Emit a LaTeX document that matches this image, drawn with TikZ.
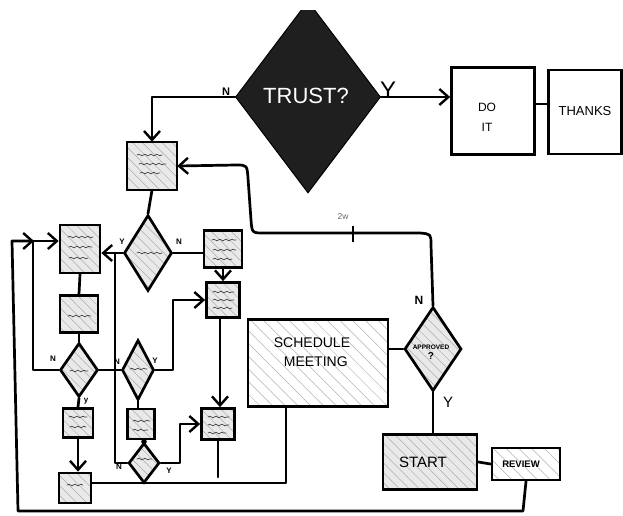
\documentclass[tikz,border=0pt]{standalone}
\usepackage{fontspec}
\setmainfont{Liberation Sans}
\usetikzlibrary{arrows.meta,shapes.geometric,patterns.meta,decorations.pathmorphing,calc}
\begin{document}
\begin{tikzpicture}[x=1pt,y=-1pt,
  ln/.style={line width=2.7pt,line cap=round,line join=round},
  arr/.style={ln,-{Straight Barb[length=9pt,width=16pt,line width=2.4pt]}},
  wbox/.style={draw,line width=2.7pt,fill=white,inner sep=0pt},
  hbox/.style={draw,line width=2.7pt,inner sep=0pt,preaction={fill=gray!17},
    pattern={Lines[angle=-45,distance=7pt,line width=0.5pt]},pattern color=gray!65},
  lbox/.style={draw,line width=2.7pt,inner sep=0pt,preaction={fill=white},
    pattern={Lines[angle=-45,distance=9pt,line width=0.5pt]},pattern color=gray!60},
  dia/.style={hbox,diamond},
  scrib/.style={line width=0.7pt,black!75,line cap=round,decorate,
    decoration={snake,amplitude=0.8pt,segment length=6pt}},
  lab/.style={font=\bfseries\fontsize{8}{8}\selectfont,inner sep=0pt},
]
\useasboundingbox (0,0) rectangle (623,515);

% --- top: trust decision ---
\begin{scope}
  \clip (0,10) rectangle (623,515);
  \node[diamond,fill=black!88,draw=black,line width=1pt,inner sep=0pt,
        minimum width=145pt,minimum height=192pt] (trust) at (308,97) {};
\end{scope}
\node[text=white,font=\fontsize{22}{22}\selectfont] (trusttxt) at (306,96) {TRUST?};
\node[wbox,minimum width=83pt,minimum height=87pt] (doit) at (493,111) {};
\node[font=\fontsize{12}{20}\selectfont,align=center] (doittxt) at (487,117) {DO\\IT};
\node[wbox,minimum width=73pt,minimum height=84pt] (thanks) at (585,112) {};
\node[font=\fontsize{13}{13}\selectfont] (thankstxt) at (585,111) {THANKS};
\draw[arr] (trust.east) -- (doit.west |- trust.east);
\draw[ln] (doit.east |- 0,104) -- (thanks.west |- 0,104);
\node[font=\bfseries\fontsize{11}{11}\selectfont] (tn) at (226,92) {N};
\node[font=\fontsize{24}{24}\selectfont] (ty) at (388,90) {Y};

% --- left cluster ---
\node[hbox,minimum width=50pt,minimum height=48pt] (A1) at (152,166) {};
\node[dia,minimum width=48pt,minimum height=76pt] (D1) at (148,253) {};
\node[hbox,minimum width=40pt,minimum height=48pt] (B1) at (80,249) {};
\node[hbox,minimum width=38pt,minimum height=37pt] (B2) at (79,314) {};
\node[dia,minimum width=38pt,minimum height=54pt] (D2) at (79,370) {};
\node[hbox,minimum width=30pt,minimum height=29pt] (B3) at (78,423) {};
\node[hbox,minimum width=32pt,minimum height=30pt] (B4) at (75,488) {};
\node[dia,minimum width=32pt,minimum height=60pt] (D3) at (138,370) {};
\node[hbox,minimum width=27pt,minimum height=30pt] (B5) at (141,424) {};
\node[dia,minimum width=31pt,minimum height=40pt] (D4) at (144,463) {};
\node[hbox,minimum width=38pt,minimum height=37pt] (C1) at (223,249) {};
\node[hbox,minimum width=33pt,minimum height=35pt] (C2) at (223,300) {};
\node[hbox,minimum width=33pt,minimum height=31pt] (C3) at (218,424) {};

% --- right cluster ---
\node[lbox,minimum width=140pt,minimum height=87pt] (sched) at (318,363) {};
\node[font=\fontsize{14}{19}\selectfont,align=left] (schedtxt) at (312,352) {SCHEDULE\\\hspace*{10pt}MEETING};
\node[dia,minimum width=57pt,minimum height=84pt] (appr) at (433,349) {};
\node[align=center,font=\bfseries\fontsize{6.5}{9}\selectfont] (apprtxt) at (431,352) {APPROVED\\[1pt]{\fontsize{10}{10}\selectfont ?}};
\node[hbox,minimum width=94pt,minimum height=55pt] (start) at (430,462) {};
\node[font=\fontsize{15}{15}\selectfont] (starttxt) at (423,462) {START};
\node[lbox,minimum width=68pt,minimum height=32pt] (review) at (526,464) {};
\node[font=\bfseries\fontsize{9.5}{9.5}\selectfont] (reviewtxt) at (521,464) {REVIEW};

% coordinates
\coordinate (jY) at (115,253);
\coordinate (cdang) at (218,477);

% --- connectors ---
\draw[arr] (trust.west) -| (A1.north);
\draw[arr] (appr.north) -- (431,245) .. controls (431,234) .. (420,233)
  -- (264,233) .. controls (252,233) .. (251,220) -- (248,178)
  .. controls (247,165) .. (236,165) -- (A1.east);
\draw[line width=1.2pt] (353,226) -- (353,242);
\node[text=black!60,font=\fontsize{8.5}{8.5}\selectfont] (twow) at (343,217) {2w};

\draw[ln] (A1.south) -- (D1.north);
\draw[arr] (D1.west) -- (B1.east |- D1.west);
\draw[ln] (jY) |- (D4.west);
\draw[ln] (D1.east) -- (C1.west |- D1.east);
\draw[arr] (C1.south) -- (C2.north);
\draw[arr] (C2.south -| 220,0) -- (C3.north -| 220,0);
\draw[ln] (C3.south) -- (cdang);
\draw[ln] (B1.south) -- (B2.north);
\draw[ln] (B2.south) -- (D2.north);
\draw[arr] (D2.west) -| (33,241) -- (B1.west |- 0,241);
\draw[arr] (review.south) -- (523,511) -- (18,511) -- (12,241) -- (34,241);
\draw[ln] (D2.south) -- (B3.north);
\draw[arr] (B3.south) -- (B4.north -| B3.south);
\draw[ln] (D2.east) -- (D3.west);
\draw[arr] (D3.east) -| (173,300) -- (C2.west);
\draw[ln] (D3.south) -- (B5.north -| D3.south);
\draw[ln] (B5.south -| D4.north) -- (D4.north);
\fill (D4.north) circle (2.8pt);
\draw[arr] (D4.east) -| (180,424) -- (C3.west);
\draw[ln] (sched.south -| 286,0) |- (B4.east |- 0,483);
\draw[ln] (appr.west) -- (appr.west -| sched.east);
\draw[ln] (appr.south) -- (appr.south |- start.north);
\draw[ln] (start.east) -- (review.west);

% --- Y / N labels ---
\node[lab] (l1) at (122,242) {Y};
\node[lab] (l2) at (179,242) {N};
\node[lab] (l3) at (53,359) {N};
\node[lab] (l4) at (117,362) {N};
\node[lab] (l5) at (155,361) {Y};
\node[lab] (l6) at (86,401) {y};
\node[lab] (l7) at (119,467) {N};
\node[lab] (l8) at (169,471) {Y};
\node[font=\bfseries\fontsize{12}{12}\selectfont] (l9) at (419,300) {N};
\node[font=\fontsize{15}{15}\selectfont] (l10) at (448,402) {Y};

% --- scribbles inside boxes ---
\draw[scrib] (137,155) -- (162,155);
\draw[scrib] (139,164) -- (166,164);
\draw[scrib] (140,173) -- (160,173);
\draw[scrib] (68,237) -- (93,237);
\draw[scrib] (69,247) -- (92,247);
\draw[scrib] (69,258) -- (88,258);
\draw[scrib] (68,316) -- (91,316);
\draw[scrib] (137,253) -- (162,253);
\draw[scrib] (212,240) -- (236,240);
\draw[scrib] (213,250) -- (236,250);
\draw[scrib] (213,259) -- (232,259);
\draw[scrib] (213,292) -- (234,292);
\draw[scrib] (213,300) -- (234,300);
\draw[scrib] (213,308) -- (232,308);
\draw[scrib] (70,371) -- (88,371);
\draw[scrib] (130,369) -- (147,369);
\draw[scrib] (69,417) -- (87,417);
\draw[scrib] (70,427) -- (86,427);
\draw[scrib] (133,421) -- (150,421);
\draw[scrib] (133,430) -- (148,430);
\draw[scrib] (208,417) -- (229,417);
\draw[scrib] (208,425) -- (229,425);
\draw[scrib] (208,433) -- (226,433);
\draw[scrib] (137,459) -- (152,459);
\draw[scrib] (67,485) -- (83,485);
\end{tikzpicture}
\end{document}
